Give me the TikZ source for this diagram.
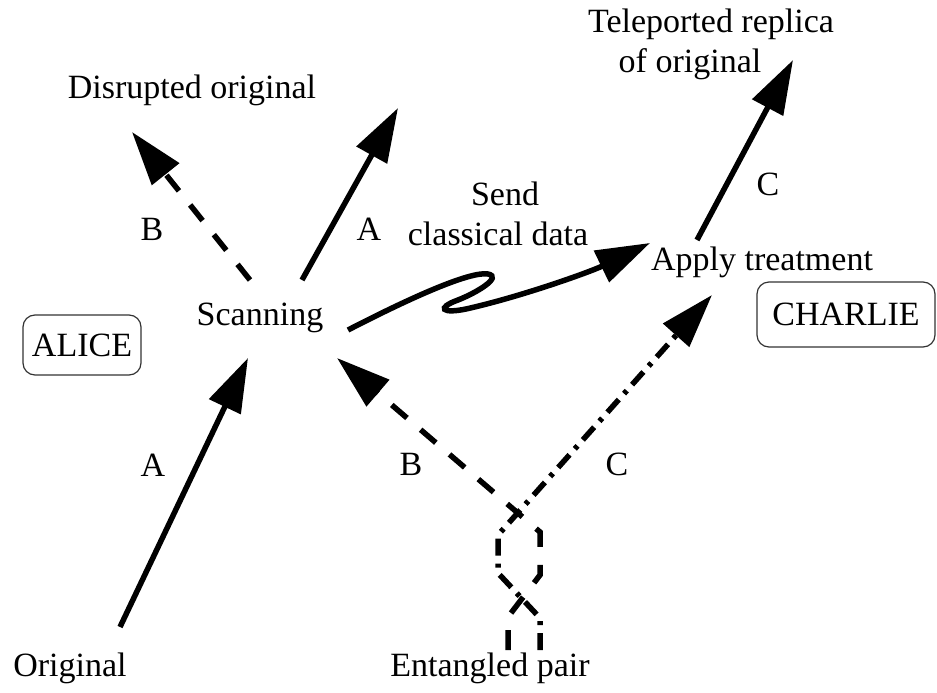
\documentclass[tikz,border=0pt]{standalone}
\usepackage{fontspec}
\setmainfont{Liberation Serif}
\usetikzlibrary{arrows.meta}
\begin{document}
\begin{tikzpicture}[x=1pt,y=-1pt,
  txt/.style={anchor=base,inner sep=0pt,font=\fontsize{34}{40}\selectfont},
  who/.style={draw=black!80,line width=1.2pt,rounded corners=12pt,inner sep=0pt,font=\fontsize{34}{40}\selectfont},
  tip/.style={-{Triangle[length=54pt,width=34pt]}},
  solidarr/.style={tip,line width=5.5pt},
  dsharr/.style={tip,line width=5.5pt,dash pattern=on 20pt off 18pt},
  dshdotarr/.style={tip,line width=5.5pt,dash pattern=on 17pt off 8pt on 4pt off 8pt}]
\useasboundingbox (0,0) rectangle (937,693);
% texts
\node[txt] (disrupted) at (192,98) {Disrupted original};
\node[txt] (tele1) at (711,33) {Teleported replica};
\node[txt] (tele2) at (690,73) {of original};
\node[txt] (scanning) at (260,325) {Scanning};
\node[txt] (send) at (505,205) {Send};
\node[txt] (classical) at (498,245) {classical data};
\node[txt] (apply) at (762,270) {Apply treatment};
\node[txt] (original) at (70,676) {Original};
\node[txt] (entangled) at (490,676) {Entangled pair};
\node[who,minimum width=118pt,minimum height=60pt] (alice) at (82,345) {ALICE};
\node[who,minimum width=178pt,minimum height=65pt] (charlie) at (846,314.5) {CHARLIE};
% labels
\node[txt] (la1) at (369,240) {A};
\node[txt] (lb1) at (152,240) {B};
\node[txt] (lc1) at (768,195) {C};
\node[txt] (la2) at (153,476) {A};
\node[txt] (lb2) at (411,475) {B};
\node[txt] (lc2) at (617,475) {C};
% coordinates
\coordinate (a2s) at (120,627); \coordinate (a2t) at (248,358);
\coordinate (a1s) at (302,280); \coordinate (a1t) at (398,108);
\coordinate (b1s) at (250,280); \coordinate (b1t) at (132,132);
\coordinate (c1s) at (697,240); \coordinate (c1t) at (793,60);
\coordinate (ws) at (348,330); \coordinate (wt) at (650,243);
\coordinate (cb0) at (540,650); \coordinate (cb1) at (540,618);
\coordinate (cb2) at (498,573); \coordinate (cb3) at (498,535);
\coordinate (ct) at (712,295);
\coordinate (bb0) at (508,650); \coordinate (bb1) at (508,617);
\coordinate (bb2) at (540,575); \coordinate (bb3) at (540,532);
\coordinate (bt) at (337,358);
% arrows
\draw[solidarr] (a2s) -- (a2t);
\draw[solidarr] (a1s) -- (a1t);
\draw[dsharr] (b1s) -- (b1t);
\draw[solidarr] (c1s) -- (c1t);
\draw[solidarr] (ws) .. controls (410,298) and (470,271) .. (488,274)
  .. controls (503,277) and (476,293) .. (458,300)
  .. controls (436,308) and (442,314) .. (466,309)
  .. controls (520,297) and (590,272) .. (wt);
\draw[dshdotarr] (cb0) -- (cb1) -- (cb2) -- (cb3) -- (ct);
\draw[dsharr] (bb0) -- (bb1) -- (bb2) -- (bb3) -- (bt);
\end{tikzpicture}
\end{document}
